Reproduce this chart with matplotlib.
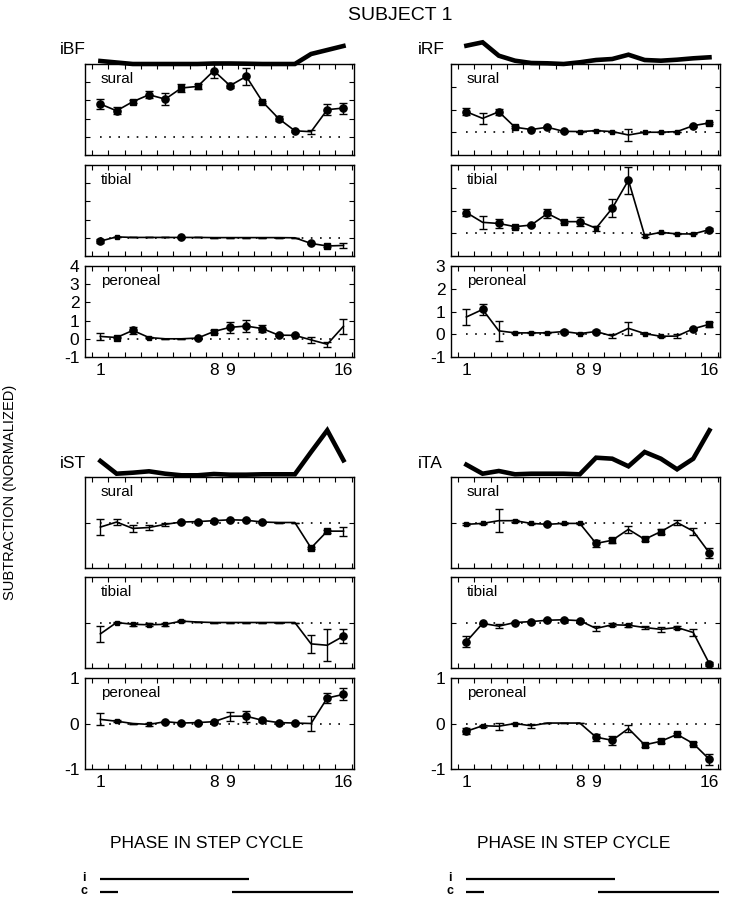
import matplotlib
matplotlib.use('Agg')
import matplotlib.pyplot as plt
import numpy as np
from matplotlib.ticker import FixedLocator

plt.rcParams['font.family'] = ['Liberation Sans', 'DejaVu Sans']
plt.rcParams['axes.unicode_minus'] = False

phases = np.arange(1, 17)
xtick_labels = [1, 8, 9, 16]

# ---- EMG envelopes (arbitrary units) ----
BF_env = [3, 1.5, 0, 0, 0, 0, 0, 0.5, 0.5, 0.3, 0, 0, 0, 10, 14, 18]
RF_env = [18.3, 21.7, 8.3, 3.3, 1, 0.7, 0, 1.7, 4, 5, 9.3, 4, 3.3, 4.3, 5.7, 6.7]
ST_env = [16, 3.3, 4.3, 5.7, 3.3, 1.7, 1.7, 3, 2.3, 2.3, 2.7, 2.7, 2.7, 25, 46.7, 16.7]
TA_env = [12.3, 3.3, 6, 2.7, 3.3, 3.3, 3.3, 2.7, 19.3, 18.3, 10.7, 25, 18.3, 7.7, 18.3, 46.7]

# ---- iBF ----
BF_sural = [1.8, 1.43, 1.93, 2.31, 2.07, 2.68, 2.77, 3.63, 2.81, 3.32, 1.93, 1.0, 0.33, 0.28, 1.49, 1.58]
BF_sural_err = [0.3, 0.2, 0.1, 0.2, 0.35, 0.2, 0.15, 0.4, 0.15, 0.45, 0.05, 0.15, 0.05, 0.1, 0.3, 0.3]
BF_sural_mk = ['o', 'o', 's', 'o', 'o', 's', 's', 'o', 'o', 'o', 's', 'o', 'o', ' ', 'o', 'o']
BF_tibial = [-0.18, 0.05, 0.02, 0.02, 0.02, 0.02, 0.02, 0.01, 0.01, 0.01, 0.01, 0.01, 0.0, -0.31, -0.45, -0.42]
BF_tibial_err = [0.1, 0.02, 0, 0, 0, 0.02, 0, 0, 0, 0, 0, 0, 0, 0.05, 0.05, 0.15]
BF_tibial_mk = ['o', '.', ' ', ' ', ' ', 'o', ' ', ' ', ' ', ' ', ' ', ' ', ' ', 'o', 's', ' ']
BF_peroneal = [0.13, 0.07, 0.46, 0.07, 0.0, 0.0, 0.04, 0.40, 0.63, 0.70, 0.56, 0.20, 0.19, -0.06, -0.30, 0.69]
BF_peroneal_err = [0.2, 0.05, 0.2, 0.03, 0, 0, 0.03, 0.1, 0.3, 0.35, 0.2, 0.05, 0.05, 0.15, 0.15, 0.4]
BF_peroneal_mk = [' ', 's', 'o', '.', ' ', ' ', 'o', 's', 'o', 'o', 'o', 'o', 'o', ' ', ' ', ' ']

# ---- iRF ----
RF_sural = [0.9, 0.61, 0.9, 0.22, 0.12, 0.22, 0.04, 0.03, 0.07, 0.03, -0.12, 0.0, 0.0, 0.03, 0.29, 0.41]
RF_sural_err = [0.15, 0.25, 0.12, 0.05, 0.03, 0.05, 0.03, 0, 0.03, 0, 0.25, 0, 0, 0, 0.05, 0.05]
RF_sural_mk = ['o', ' ', 'o', 's', 'o', 'o', 'o', '.', '.', '.', ' ', '.', '.', '.', 'o', 's']
RF_tibial = [0.91, 0.48, 0.43, 0.29, 0.36, 0.87, 0.51, 0.51, 0.22, 1.1, 2.33, -0.1, 0.04, -0.03, -0.03, 0.16]
RF_tibial_err = [0.15, 0.3, 0.2, 0.05, 0.05, 0.2, 0.05, 0.2, 0.1, 0.4, 0.6, 0.05, 0.03, 0.02, 0.02, 0.05]
RF_tibial_mk = ['o', ' ', 'o', 's', 'o', 'o', 's', 'o', '.', 'o', 'o', '.', '.', '.', '.', 'o']
RF_peroneal = [0.76, 1.09, 0.15, 0.06, 0.06, 0.06, 0.12, 0.03, 0.12, -0.08, 0.26, 0.03, -0.09, -0.08, 0.24, 0.44]
RF_peroneal_err = [0.35, 0.25, 0.45, 0.02, 0.02, 0.02, 0.05, 0.02, 0.05, 0.1, 0.3, 0.02, 0.02, 0.08, 0.05, 0.1]
RF_peroneal_mk = [' ', 'o', ' ', '.', '.', '.', 'o', '.', 'o', ' ', ' ', '.', '.', ' ', 'o', 's']

# ---- iST ----
ST_sural = [-0.1, 0.01, -0.13, -0.11, -0.04, 0.01, 0.02, 0.04, 0.06, 0.05, 0.01, 0.0, 0.0, -0.56, -0.19, -0.19]
ST_sural_err = [0.18, 0.07, 0.07, 0.06, 0.04, 0.02, 0.02, 0.02, 0.02, 0.02, 0.02, 0, 0, 0.03, 0.03, 0.1]
ST_sural_mk = [' ', ' ', ' ', ' ', ' ', 'o', 'o', 'o', 'o', 'o', 'o', ' ', ' ', 's', 's', ' ']
ST_tibial = [-0.25, 0.0, -0.04, -0.05, -0.04, 0.03, 0.01, 0.0, 0.0, 0.0, 0.0, 0.0, 0.0, -0.47, -0.5, -0.3]
ST_tibial_err = [0.18, 0.02, 0.03, 0.03, 0.03, 0.02, 0, 0, 0, 0, 0, 0, 0, 0.2, 0.35, 0.15]
ST_tibial_mk = [' ', '.', '.', '.', '.', '.', ' ', ' ', ' ', ' ', ' ', ' ', ' ', ' ', ' ', 'o']
ST_peroneal = [0.09, 0.05, 0.0, -0.02, 0.04, 0.01, 0.02, 0.04, 0.16, 0.16, 0.07, 0.02, 0.01, 0.0, 0.56, 0.64]
ST_peroneal_err = [0.13, 0.02, 0, 0.04, 0.02, 0.02, 0.02, 0.02, 0.1, 0.12, 0.03, 0.02, 0.02, 0.17, 0.12, 0.13]
ST_peroneal_mk = [' ', '.', ' ', '.', 'o', 'o', 'o', 'o', ' ', 'o', 'o', 'o', 'o', ' ', 'o', 'o']

# ---- iTA ----
TA_sural = [-0.04, -0.02, 0.04, 0.04, -0.02, -0.04, -0.02, -0.02, -0.46, -0.39, -0.15, -0.37, -0.2, 0.0, -0.19, -0.67]
TA_sural_err = [0.02, 0.02, 0.25, 0.02, 0.02, 0.02, 0.02, 0.02, 0.07, 0.05, 0.07, 0.03, 0.05, 0.05, 0.08, 0.1]
TA_sural_mk = ['.', '.', ' ', '.', '.', 'o', '.', '.', 'o', 's', ' ', 's', 's', ' ', ' ', 'o']
TA_tibial = [-0.42, -0.02, -0.08, 0.0, 0.02, 0.05, 0.06, 0.04, -0.13, -0.05, -0.06, -0.11, -0.15, -0.11, -0.22, -0.91]
TA_tibial_err = [0.12, 0.02, 0.04, 0.02, 0.02, 0.02, 0.02, 0.02, 0.06, 0.03, 0.03, 0.04, 0.06, 0.03, 0.07, 0.05]
TA_tibial_mk = ['o', 'o', ' ', 'o', 'o', 'o', 'o', 'o', ' ', '.', '.', ' ', ' ', '.', ' ', 'o']
TA_peroneal = [-0.17, -0.05, -0.06, 0.0, -0.05, 0.01, 0.01, 0.01, -0.3, -0.37, -0.11, -0.47, -0.39, -0.24, -0.44, -0.79]
TA_peroneal_err = [0.07, 0.02, 0.08, 0.02, 0.05, 0, 0, 0, 0.08, 0.1, 0.07, 0.05, 0.04, 0.04, 0.04, 0.12]
TA_peroneal_mk = ['o', '.', ' ', '.', ' ', ' ', ' ', ' ', 'o', 'o', ' ', 's', 's', 's', 's', 'o']

# step-cycle stance bars (phase units)
ipsi_stance = [(1.0, 10.15)]
contra_stance = [(1.0, 2.1), (9.1, 16.6)]

W, H = 733, 899
fig = plt.figure(figsize=(W / 100, H / 100), dpi=100)

def px_axes(x0, y0, x1, y1):
    return fig.add_axes([x0 / W, 1 - y1 / H, (x1 - x0) / W, (y1 - y0) / H])

XLIM = (0.05, 16.65)

def draw_panel(ax, vals, errs, marks, ylim, label, show_labels):
    ax.set_xlim(*XLIM)
    ax.set_ylim(*ylim)
    ax.plot([1, 16], [0, 0], color='black', lw=1.2, ls=(0, (1, 4.5)))
    ax.plot(phases, vals, color='black', lw=1.2, zorder=3)
    ax.errorbar(phases, vals, yerr=errs, fmt='none', ecolor='black',
                elinewidth=1.0, capsize=3, capthick=1.0, zorder=3)
    for x, v, m in zip(phases, vals, marks):
        if m == 'o':
            ax.plot(x, v, 'o', ms=5.2, color='black', zorder=4)
        elif m == 's':
            ax.plot(x, v, 's', ms=4.8, color='black', zorder=4)
        elif m == '.':
            ax.plot(x, v, 's', ms=2.5, color='black', zorder=4)
    ax.text(0.058, 0.83, label, transform=ax.transAxes, fontsize=11, va='center', ha='left')
    ax.xaxis.set_major_locator(FixedLocator(xtick_labels))
    ax.xaxis.set_minor_locator(FixedLocator(np.arange(0.5, 17, 1)))
    ax.yaxis.set_major_locator(FixedLocator(np.arange(ylim[0], ylim[1] + 1, 1)))
    ax.tick_params(which='both', direction='in', top=True, right=True, width=0.8)
    ax.tick_params(which='major', axis='x', length=0, pad=4)
    ax.tick_params(which='minor', axis='x', length=3.5)
    ax.tick_params(which='major', axis='y', length=3.5, pad=4)
    ax.tick_params(labelsize=12.5)
    if not show_labels:
        ax.set_xticklabels([])
        ax.set_yticklabels([])
    for s in ax.spines.values():
        s.set_linewidth(1.0)

def draw_env(x0, x1, top, env):
    ax = px_axes(x0, top - 60, x1, top)
    ax.set_xlim(*XLIM)
    ax.set_ylim(0, 60)
    ax.plot(phases, env, color='black', lw=3.3, solid_joinstyle='miter', clip_on=False, zorder=5)
    ax.axis('off')

def draw_bars(x0, x1):
    ax = px_axes(x0, 870, x1, 900)
    ax.set_xlim(*XLIM)
    ax.set_ylim(0, 30)
    for a, b in ipsi_stance:
        ax.plot([a, b], [21, 21], color='black', lw=1.6, solid_capstyle='butt')
    for a, b in contra_stance:
        ax.plot([a, b], [8, 8], color='black', lw=1.6, solid_capstyle='butt', clip_on=False)
    ax.axis('off')

cols = [(85, 354), (451, 720)]
top_rows = [(64, 155), (165, 256), (266, 357)]
bot_rows = [(477, 568), (577, 668), (678, 769)]

groups = [
    (cols[0], top_rows, (-1, 4), BF_env, 'iBF', 60,
     [(BF_sural, BF_sural_err, BF_sural_mk), (BF_tibial, BF_tibial_err, BF_tibial_mk),
      (BF_peroneal, BF_peroneal_err, BF_peroneal_mk)]),
    (cols[1], top_rows, (-1, 3), RF_env, 'iRF', 418,
     [(RF_sural, RF_sural_err, RF_sural_mk), (RF_tibial, RF_tibial_err, RF_tibial_mk),
      (RF_peroneal, RF_peroneal_err, RF_peroneal_mk)]),
    (cols[0], bot_rows, (-1, 1), ST_env, 'iST', 60,
     [(ST_sural, ST_sural_err, ST_sural_mk), (ST_tibial, ST_tibial_err, ST_tibial_mk),
      (ST_peroneal, ST_peroneal_err, ST_peroneal_mk)]),
    (cols[1], bot_rows, (-1, 1), TA_env, 'iTA', 418,
     [(TA_sural, TA_sural_err, TA_sural_mk), (TA_tibial, TA_tibial_err, TA_tibial_mk),
      (TA_peroneal, TA_peroneal_err, TA_peroneal_mk)]),
]
nerves = ['sural', 'tibial', 'peroneal']

for (x0, x1), rows, ylim, env, name, lx, series in groups:
    for i, ((y0, y1), (v, e, m)) in enumerate(zip(rows, series)):
        ax = px_axes(x0, y0, x1, y1)
        draw_panel(ax, v, e, m, ylim, nerves[i], i == 2)
    draw_env(x0, x1, rows[0][0], env)
    fig.text(lx / W, 1 - (rows[0][0] - 14) / H, name, fontsize=12.5, ha='left', va='center')

for x0, x1 in cols:
    draw_bars(x0, x1)

fig.text(400 / W, 1 - 15 / H, 'SUBJECT 1', fontsize=14, ha='center', va='center')
fig.text(10 / W, 1 - 492 / H, 'SUBTRACTION (NORMALIZED)', fontsize=10.5, rotation=90,
         ha='center', va='center')
fig.text(207 / W, 1 - 844 / H, 'PHASE IN STEP CYCLE', fontsize=12.5, ha='center', va='center')
fig.text(574 / W, 1 - 843 / H, 'PHASE IN STEP CYCLE', fontsize=12.5, ha='center', va='center')
for lx in (84, 450):
    fig.text(lx / W, 1 - 878 / H, 'i', fontsize=9, ha='center', va='center', fontweight='bold')
    fig.text(lx / W, 1 - 891 / H, 'c', fontsize=9, ha='center', va='center', fontweight='bold')

fig.savefig('out.png', dpi=100)
